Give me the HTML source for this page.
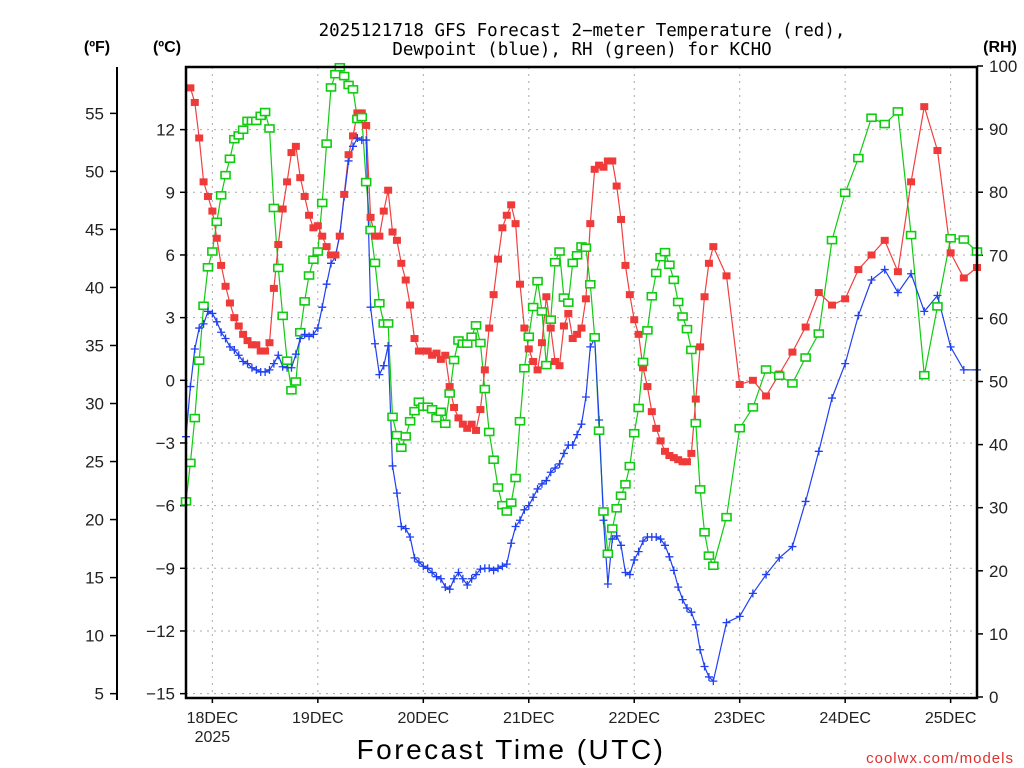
<!DOCTYPE html>
<html><head><meta charset="utf-8"><title>GFS Forecast KCHO</title>
<style>
body{margin:0;background:#fff;}
svg{display:block;font-family:"Liberation Sans","DejaVu Sans",sans-serif;}
</style></head>
<body>
<svg id="chart" width="1024" height="768" viewBox="0 0 1024 768">
<text x="582" y="36" font-size="17.5" text-anchor="middle" font-family="'DejaVu Sans Mono','Liberation Mono',monospace">2025121718 GFS Forecast 2−meter Temperature (red),</text>
<text x="582" y="55" font-size="17.5" text-anchor="middle" font-family="'DejaVu Sans Mono','Liberation Mono',monospace">Dewpoint (blue), RH (green) for KCHO</text>
<text x="97" y="52" font-size="16" font-weight="bold" text-anchor="middle">(ºF)</text>
<text x="167" y="52" font-size="16" font-weight="bold" text-anchor="middle">(ºC)</text>
<text x="1000" y="52" font-size="16" font-weight="bold" text-anchor="middle">(RH)</text>
<g id="grid"></g>
<g id="axes"></g>
<g id="series"></g>
<rect x="186" y="67" width="791" height="631" fill="none" stroke="#000" stroke-width="2.5"/>
<line x1="117" y1="67" x2="117" y2="700" stroke="#000" stroke-width="2"/>
<text x="511" y="759" font-size="28" text-anchor="middle" letter-spacing="2.5">Forecast Time (UTC)</text>
<text x="1014" y="763" font-size="15" fill="#e03030" text-anchor="end" letter-spacing="1">coolwx.com/models</text>
</svg>
<script>
const hours = [0,1,2,3,4,5,6,7,8,9,10,11,12,13,14,15,16,17,18,19,20,21,22,23,24,25,26,27,28,29,30,31,32,33,34,35,36,37,38,39,40,41,42,43,44,45,46,47,48,49,50,51,52,53,54,55,56,57,58,59,60,61,62,63,64,65,66,67,68,69,70,71,72,73,74,75,76,77,78,79,80,81,82,83,84,85,86,87,88,89,90,91,92,93,94,95,96,97,98,99,100,101,102,103,104,105,106,107,108,109,110,111,112,113,114,115,116,117,118,119,120,123,126,129,132,135,138,141,144,147,150,153,156,159,162,165,168,171,174,177,180];
const tempC = [14.3,14.0,13.3,11.6,9.5,8.8,8.1,6.8,5.5,4.5,3.7,3.0,2.6,2.2,1.9,1.7,1.7,1.4,1.4,1.8,4.4,6.5,8.2,9.5,10.9,11.2,9.7,8.8,7.9,7.3,7.4,6.9,6.4,6.0,6.0,6.9,8.9,10.8,11.7,12.8,12.8,12.2,7.8,6.9,6.9,8.1,9.1,7.1,6.7,5.6,4.8,3.6,2.0,1.4,1.4,1.4,1.2,1.3,1.0,1.2,-0.3,-1.3,-1.8,-2.1,-2.3,-2.1,-2.4,-1.4,0.5,2.5,4.1,5.8,7.3,7.9,8.4,7.5,4.6,2.5,1.5,0.9,0.5,1.8,4.0,2.5,0.9,0.7,2.6,3.2,2.0,2.2,2.5,3.9,7.5,10.1,10.3,10.2,10.5,10.5,9.3,7.7,5.5,4.1,2.9,2.2,0.6,-0.3,-1.5,-2.3,-2.9,-3.4,-3.6,-3.7,-3.8,-3.9,-3.9,-3.5,-0.9,1.6,4.0,5.6,6.4,5.0,-0.2,0.0,-0.75,0.3,1.35,2.55,4.2,3.6,3.9,5.3,6.0,6.7,5.2,9.5,13.1,11.0,6.1,4.9,5.4];
const dewC = [-2.7,-0.3,1.5,2.5,2.7,3.3,3.2,2.8,2.3,2.0,1.6,1.45,1.2,0.9,0.8,0.6,0.5,0.4,0.4,0.5,0.8,1.2,0.65,0.6,0.6,1.25,2.0,2.2,2.1,2.2,2.5,3.5,4.6,5.6,5.9,7.0,8.8,10.5,11.2,11.6,11.5,11.5,3.5,1.75,0.27,0.7,1.65,-4.1,-5.4,-7.0,-7.1,-7.5,-8.5,-8.7,-8.9,-9.0,-9.2,-9.4,-9.5,-9.9,-10.0,-9.5,-9.2,-9.5,-9.8,-9.5,-9.3,-9.04,-9.0,-9.0,-9.1,-9.0,-8.9,-8.8,-7.8,-7.0,-6.7,-6.2,-6.0,-5.6,-5.2,-4.96,-4.8,-4.4,-4.2,-4.0,-3.5,-3.1,-3.1,-2.6,-2.1,-0.8,1.6,2.0,-1.9,-6.7,-9.75,-7.6,-7.45,-7.9,-9.2,-9.3,-8.6,-8.2,-7.7,-7.5,-7.5,-7.5,-7.6,-7.9,-8.45,-9.1,-9.9,-10.5,-10.9,-11.1,-11.7,-12.9,-13.7,-14.2,-14.4,-11.6,-11.3,-10.2,-9.3,-8.5,-7.96,-5.8,-3.4,-0.85,0.8,3.1,4.8,5.3,4.2,5.1,3.3,4.06,1.6,0.5,0.5];
const rhPct = [31.0,37.1,44.2,53.3,62.0,68.1,70.6,75.3,79.5,82.7,85.3,88.4,89.0,89.9,91.3,91.3,91.3,92.1,92.7,90.1,77.5,68.0,60.4,53.3,48.6,50.0,57.8,62.7,66.8,69.3,70.6,78.3,87.7,96.6,98.7,99.8,98.4,97.0,96.3,91.6,91.9,81.6,74.0,68.8,62.4,59.2,59.2,44.4,41.5,39.5,41.3,43.7,45.3,46.8,46.0,46.0,45.6,44.2,45.2,43.3,48.1,53.4,56.5,56.0,56.0,57.1,58.9,56.1,48.8,42.0,37.6,33.2,30.4,29.4,30.8,34.7,43.7,52.1,57.1,61.8,65.9,61.1,52.6,59.8,68.9,70.6,63.3,62.5,68.8,70.0,71.4,71.2,65.4,57.0,42.2,29.4,22.7,26.7,29.9,31.9,33.7,36.6,41.8,45.8,53.1,58.1,63.5,67.2,69.7,70.5,68.5,66.1,62.6,60.3,58.3,55.0,43.4,32.9,26.1,22.4,20.8,28.5,42.6,45.9,51.9,50.9,49.7,53.8,57.6,72.4,79.9,85.4,91.8,90.8,92.8,73.2,51.0,61.9,72.7,72.5,70.6];
const dayLabels = ["18DEC","19DEC","20DEC","21DEC","22DEC","23DEC","24DEC","25DEC"];
const celsiusTicks = [12,9,6,3,0,-3,-6,-9,-12,-15];
const fahrenheitTicks = [55,50,45,40,35,30,25,20,15,10,5];
const rhTicks = [100,90,80,70,60,50,40,30,20,10,0];

const NS = "http://www.w3.org/2000/svg";
const L = 186, R = 977, T = 67, B = 698;
const xOf = h => L + h * (R - L) / 180;
const yC = c => 380.3 - c * 20.89;
const yF = f => yC((f - 32) / 1.8);
const yRH = r => 697 - r * 6.31;
function mk(tag, attrs, parent, txt) {
  const e = document.createElementNS(NS, tag);
  for (const k in attrs) e.setAttribute(k, attrs[k]);
  if (txt !== undefined) e.textContent = txt;
  parent.appendChild(e);
  return e;
}
const grid = document.getElementById('grid');
const axes = document.getElementById('axes');
const series = document.getElementById('series');

celsiusTicks.forEach(c => {
  const y = yC(c);
  const g = mk('line', {x1: L, x2: R, y1: y, y2: y, stroke: '#aaa', 'stroke-dasharray': '2,5'}, grid);
  
  
  const t = mk('line', {x1: L - 6, x2: L, y1: y, y2: y, stroke: '#000', 'stroke-width': 1.5}, axes);
  
  
  const lb = mk('text', {x: 175, y: y + 6, 'font-size': 17, 'text-anchor': 'end', fill: '#222'}, axes, c < 0 ? '−' + Math.abs(c) : String(c));
  
  
});
fahrenheitTicks.forEach(f => {
  const y = yF(f);
  const t = mk('line', {x1: 110, x2: 117, y1: y, y2: y, stroke: '#000', 'stroke-width': 1.5}, axes);
  
  
  const lb = mk('text', {x: 104, y: y + 6, 'font-size': 17, 'text-anchor': 'end', fill: '#222'}, axes, String(f));
  
  
});
rhTicks.forEach(r => {
  const y = yRH(r);
  const t = mk('line', {x1: R, x2: R + 6, y1: y, y2: y, stroke: '#000', 'stroke-width': 1.5}, axes);
  
  
  const lb = mk('text', {x: 989, y: y + 6, 'font-size': 17, 'text-anchor': 'start', fill: '#222'}, axes, String(r));
  
  
});
dayLabels.forEach((d, i) => {
  const x = xOf(6 + 24 * i);
  const g = mk('line', {x1: x, x2: x, y1: T, y2: B, stroke: '#aaa', 'stroke-dasharray': '2,5'}, grid);
  
  
  const t = mk('line', {x1: x, x2: x, y1: B, y2: B + 5, stroke: '#000', 'stroke-width': 1.5}, axes);
  
  
  const lb = mk('text', {x: x, y: 723, 'font-size': 16, 'text-anchor': 'middle', fill: '#222'}, axes, d);
  
  
});
const yr = mk('text', {x: xOf(6), y: 742, 'font-size': 16, 'text-anchor': 'middle', fill: '#222'}, axes, '2025');



function drawLine(vals, yf, color, name, start) {
  const pts = hours.slice(start).map((h, j) => xOf(h).toFixed(1) + ',' + yf(vals[j + start]).toFixed(1)).join(' ');
  const pl = mk('polyline', {points: pts, fill: 'none', stroke: color, 'stroke-width': 1.2}, series);
  
  
}
drawLine(rhPct, yRH, '#10cc10', 'rh-line', 0);
drawLine(tempC, yC, '#f04040', 'temperature-line', 1);
drawLine(dewC, yC, '#2040f0', 'dewpoint-line', 0);

hours.forEach((h, i) => {
  const x = xOf(h);
  const yd = yC(dewC[i]);
  const p = mk('path', {d: `M${x - 4},${yd}H${x + 4}M${x},${yd - 4}V${yd + 4}`, stroke: '#2040f0', 'stroke-width': 1.3}, series);
  
  
  if (i > 0) {
    const yt = yC(tempC[i]);
    const r = mk('rect', {x: x - 4, y: yt - 3.5, width: 8, height: 7, fill: '#f03a3a'}, series);
    
    
  }
  const yh = yRH(rhPct[i]);
  const g = mk('rect', {x: x - 4.5, y: yh - 3.5, width: 9, height: 7, fill: '#fff', stroke: '#10cc10', 'stroke-width': 1.6}, series);
  
  
});
</script>
</body></html>
